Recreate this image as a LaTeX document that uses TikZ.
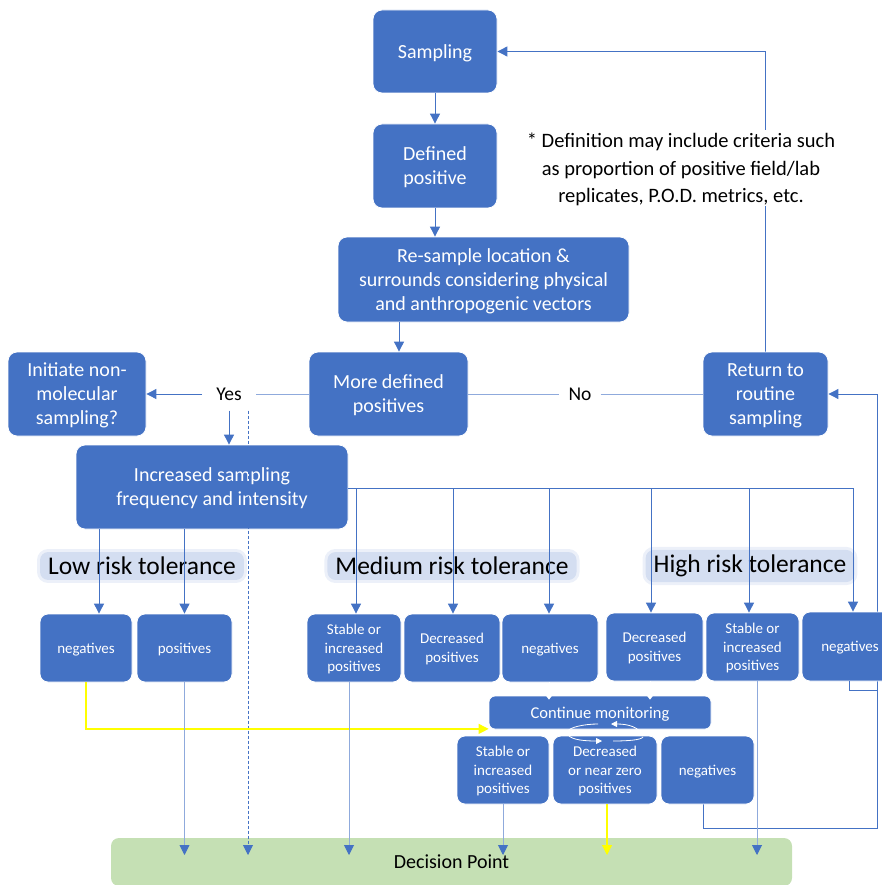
\documentclass[tikz,border=0pt]{standalone}
\usepackage{fontspec}
\setmainfont{Carlito}
\usetikzlibrary{arrows.meta,backgrounds}

\definecolor{boxblue}{HTML}{4472C4}
\definecolor{lineblue}{HTML}{4472C4}
\definecolor{paleline}{HTML}{8FAADC}
\definecolor{decgreen}{HTML}{C5E0B4}
\definecolor{glowblue}{HTML}{D4DEF1}
\definecolor{linkyellow}{HTML}{FFFF00}

\tikzset{
  box/.style={rectangle, rounded corners=9pt, fill=boxblue, draw=white, line width=0.8pt,
    text=white, align=center, inner sep=0pt, text depth=0pt, font=\fontsize{20}{24}\selectfont},
  smallbox/.style={box, rounded corners=8pt, minimum height=68pt, font=\fontsize{15}{18.5}\selectfont},
  risk/.style={fill=glowblue, rounded corners=8pt, inner xsep=8pt, inner ysep=5pt,
    font=\fontsize{25.5}{30}\selectfont, preaction={draw=glowblue, line width=6pt, opacity=0.45}},
  decision/.style={rectangle, rounded corners=8pt, fill=decgreen, inner sep=0pt,
    font=\fontsize{20}{24}\selectfont},
  tag/.style={fill=white, inner xsep=14pt, inner ysep=10pt, font=\fontsize{19.5}{24}\selectfont},
  note/.style={fill=white, align=center, inner sep=3pt, text depth=0pt, font=\fontsize{20.5}{27.5}\selectfont},
  link/.style={draw=lineblue, line width=0.9pt, -{Triangle[length=10pt,width=10pt]}},
  palelink/.style={draw=paleline, line width=0.9pt, -{Triangle[length=10pt,width=10pt,color=lineblue]}},
  thinline/.style={draw=paleline, line width=0.9pt},
  yellowlink/.style={draw=linkyellow, line width=1.2pt, -{Triangle[length=10pt,width=10pt]}},
  loop/.style={draw=white, line width=0.8pt}
}

\begin{document}
\begin{tikzpicture}[x=1pt,y=-1pt]
\useasboundingbox (0,0) rectangle (882,885);

% risk levels
\node[risk] (lowrisk) at (142,566) {Low risk tolerance};
\node[risk] (medrisk) at (452,566) {Medium risk tolerance};
\node[risk] (highrisk) at (750,566) {High risk tolerance};

% main chain
\node[box, minimum width=124pt, minimum height=83pt] (samp) at (435,51.5) {Sampling};
\node[box, minimum width=124pt, minimum height=84pt] (defpos) at (435,166) {Defined\\positive};
\node[box, minimum width=291pt, minimum height=85pt] (resamp) at (483.5,279.5) {Re-sample location \&\\surrounds considering physical\\and anthropogenic vectors};
\node[box, minimum width=159pt, minimum height=84pt] (more) at (388.5,394) {More defined\\positives};
\node[box, minimum width=138pt, minimum height=84pt] (init) at (77,394) {Initiate non-\\molecular\\sampling?};
\node[box, minimum width=125pt, minimum height=84pt] (ret) at (765.5,394) {Return to\\routine\\sampling};
\node[box, minimum width=272pt, minimum height=84pt] (incr) at (212,487) {Increased sampling\\frequency and intensity};

% outcomes
\node[smallbox, minimum width=92pt] (lowneg) at (86,648) {negatives};
\node[smallbox, minimum width=95pt] (lowpos) at (184.5,648) {positives};
\node[smallbox, minimum width=94pt] (medstab) at (354,648) {Stable or\\increased\\positives};
\node[smallbox, minimum width=96pt] (meddec) at (452,648) {Decreased\\positives};
\node[smallbox, minimum width=96pt] (medneg) at (550,648) {negatives};
\node[smallbox, minimum width=97pt] (highdec) at (654.5,647) {Decreased\\positives};
\node[smallbox, minimum width=93pt] (highstab) at (752.5,647) {Stable or\\increased\\positives};
\node[smallbox, minimum width=96pt, minimum height=69pt] (highneg) at (850,646.5) {negatives};

\node[box, rounded corners=6pt, minimum width=222pt, minimum height=33pt, font=\fontsize{16.5}{20}\selectfont] (cont) at (600,712.5) {Continue monitoring};
\node[smallbox, minimum width=92pt] (botstab) at (503,770) {Stable or\\increased\\positives};
\node[smallbox, minimum width=104pt] (botdec) at (605,770) {Decreased\\or near zero\\positives};
\node[smallbox, minimum width=93pt] (botneg) at (707.5,770) {negatives};

\node[decision, minimum width=681pt, minimum height=48pt] (dec) at (451.5,862) {Decision Point};

\node[tag] (yes) at (229,394) {Yes};
\node[tag, inner xsep=9pt] (no) at (580,394) {No};

\coordinate (bus) at (348,488);
\coordinate (rbus) at (877,828);
\coordinate (tips) at (0,855);
\coordinate (cin) at ([yshift=-4pt]cont.north);

\begin{scope}[on background layer]
\draw[link] (ret.north) |- (samp.east);
\draw[link] (botneg.south -| 703,0) |- (rbus) |- (ret.east);
\end{scope}

\node[note] (def) at (681,168) {* Definition may include criteria such\\as proportion of positive field/lab\\replicates, P.O.D. metrics, etc.};

\draw[link] (samp.south) -- (defpos.north);
\draw[link] (defpos.south) -- (defpos.south |- resamp.north);
\draw[link] (resamp.south -| 399,0) -- (more.north -| 399,0);
\draw[thinline] (more.west) -- (yes.east);
\draw[link] (yes.west) -- (init.east);
\draw[link] (yes.south) -- (yes.south |- incr.north);
\draw[link, dash pattern=on 3pt off 2pt] (yes.south -| 248,0) -- (tips -| 248,0);
\draw[thinline] (more.east) -- (no.west);
\draw[thinline] (no.east) -- (ret.west);

\draw[link] (incr.south -| 99,0) -- (lowneg.north -| 99,0);
\draw[link] (incr.south -| lowpos.north) -- (lowpos.north);
\draw[link] (bus) -| (highneg.north -| 853,0);
\foreach \tgt/\xx in {medstab/356, meddec/453, medneg/549, highdec/651, highstab/749}
  \draw[link] (bus -| \xx,0) -- (\tgt.north -| \xx,0);

\draw[yellowlink] (lowneg.south) |- ([yshift=0.5pt]cont.south west);
\draw[palelink] (lowpos.south) -- (tips -| lowpos.south);
\draw[palelink] (medstab.south -| 349,0) -- (tips -| 349,0);
\draw[palelink] (highstab.south -| 757,0) -- (tips -| 757,0);
\draw[palelink] (botstab.south) -- (tips -| botstab.south);
\draw[yellowlink] (botdec.south -| 607,0) -- (tips -| 607,0);
\draw[draw=lineblue, line width=0.9pt] (highneg.south -| 849,0) |- (rbus |- 0,690);

\foreach \src/\xx in {medneg/549, highdec/650}
  \draw[white, line width=0.8pt, -{Triangle[length=4pt,width=6pt]}] (\src.south -| \xx,0) -- (cin -| \xx,0);

% monitoring loop
\draw[loop, -{Triangle[length=6pt,width=6pt]}] (642,736) .. controls (640,727) and (628,724) .. (611,724);
\draw[loop] (598,724) .. controls (585,724) and (569,727) .. (567,732);
\draw[loop, -{Triangle[length=6pt,width=6pt]}] (568,735) .. controls (572,740) and (585,741) .. (602,741);
\draw[loop] (613,741) .. controls (628,741) and (641,740) .. (643,737);
\end{tikzpicture}
\end{document}
